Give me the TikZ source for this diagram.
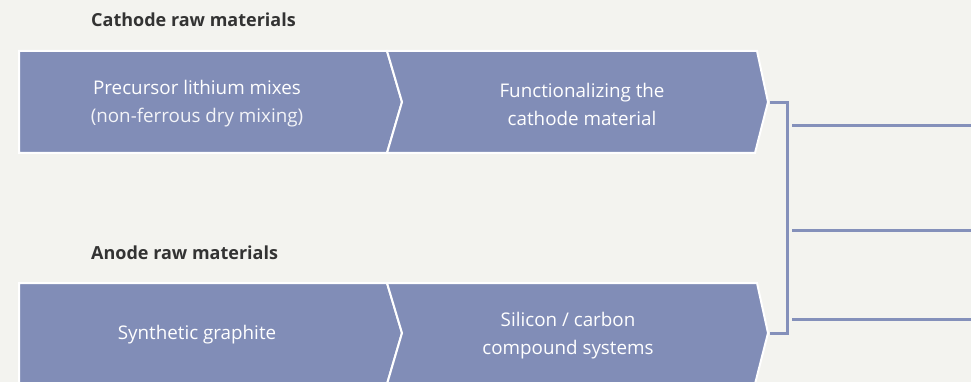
\documentclass[tikz,border=0pt]{standalone}
\usepackage{fontspec}
\setmainfont{Open Sans}
\definecolor{bgcol}{HTML}{F3F3EF}
\definecolor{boxcol}{HTML}{818DB7}
\definecolor{headcol}{HTML}{333333}
\definecolor{linecol}{HTML}{8490BA}
\tikzset{
  stagebox/.style={fill=boxcol, draw=white, line width=2pt, line join=miter},
  boxtext/.style={text=white, font=\fontsize{18.8}{28}\selectfont, align=center, inner sep=0pt},
  headtext/.style={text=headcol, font=\fontsize{18}{20}\selectfont\bfseries, anchor=west, inner sep=0pt},
  bracketline/.style={draw=linecol, line width=3pt},
}
\begin{document}
\begin{tikzpicture}[x=1pt,y=-1pt]
\useasboundingbox (0,0) rectangle (971,382);
\fill[bgcol] (0,0) rectangle (971,382);
\begin{scope}
\clip (0,0) rectangle (971,382);
% cathode row
\path[stagebox] (19,51) -- (387,51) -- (402,102) -- (387,153) -- (19,153) -- cycle;
\path[stagebox] (387,51) -- (757,51) -- (768,102) -- (755,153) -- (387,153) -- (402,102) -- cycle;
% anode row
\path[stagebox] (19,283) -- (387,283) -- (402,333) -- (387,384) -- (19,384) -- cycle;
\path[stagebox] (387,283) -- (757,283) -- (768,333) -- (755,384) -- (387,384) -- (402,333) -- cycle;
\end{scope}
\coordinate (tipA) at (770,103);
\coordinate (tipB) at (770,333);
\coordinate (brk) at (787,103);
\coordinate (l1s) at (792,126);
\coordinate (l1e) at (971,126);
\coordinate (l2s) at (792,230);
\coordinate (l2e) at (971,230);
\coordinate (l3s) at (792,319);
\coordinate (l3e) at (971,319);
\draw[bracketline] (tipA) -| (brk) |- (tipB);
\draw[bracketline] (l1s) -- (l1e);
\draw[bracketline] (l2s) -- (l2e);
\draw[bracketline] (l3s) -- (l3e);

\node[headtext] (hc) at (91,20) {Cathode raw materials};
\node[headtext] (ha) at (91,253) {Anode raw materials};

\node[boxtext] (t1) at (197,104) {Precursor lithium mixes\\{\color{white!90!boxcol}(non-ferrous dry mixing)}};
\node[boxtext] (t2) at (582,104) {Functionalizing the\\cathode material};
\node[boxtext] (t3) at (197,335) {Synthetic graphite};
\node[boxtext] (t4) at (568,336) {Silicon / carbon\\compound systems};
\end{tikzpicture}
\end{document}
